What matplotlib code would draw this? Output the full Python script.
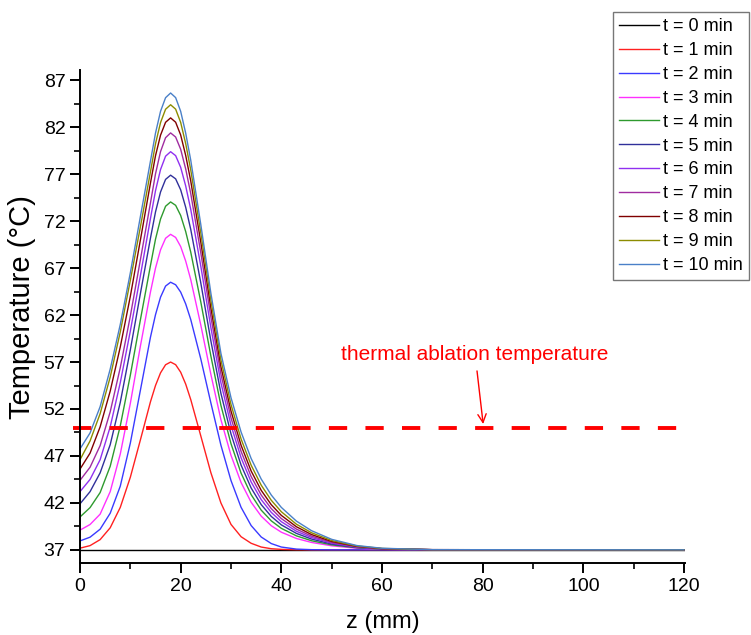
import matplotlib
matplotlib.use('Agg')
import matplotlib.pyplot as plt
from matplotlib.ticker import MultipleLocator

plt.rcParams['font.family'] = ['Liberation Sans', 'DejaVu Sans']

# positions along the axis (mm)
z = [0, 2, 4, 6, 8, 10, 12, 14, 15, 16, 17, 18, 19, 20, 21, 22, 24, 26, 28,
     30, 32, 34, 36, 38, 40, 43, 46, 50, 55, 60, 70, 120]

# temperature profiles (deg C), one list per time step
t0 = [37.0] * len(z)
t1 = [37.18, 37.45, 38.09, 39.35, 41.52, 44.73, 48.71, 52.77, 54.50, 55.85, 56.71,
      57.00,
      56.72, 55.92, 54.65, 53.01, 49.13, 45.22, 41.99, 39.71, 38.40, 37.70, 37.30,
      37.12, 37.05, 37.01, 37.00, 37.00, 37.00, 37.00, 37.00, 37.00]
t2 = [37.95, 38.35, 39.20, 40.90, 43.78, 48.37, 54.00, 59.65, 62.04, 63.91, 65.09,
      65.50,
      65.23, 64.45, 63.19, 61.53, 57.33, 52.65, 48.14, 44.38, 41.53, 39.59, 38.37,
      37.67, 37.30, 37.08, 37.02, 37.00, 37.00, 37.00, 37.00, 37.00]
t3 = [39.10, 39.70, 40.80, 43.20, 47.20, 52.60, 58.70, 64.46, 67.00, 68.95, 70.18,
      70.60,
      70.27, 69.30, 67.75, 65.78, 60.94, 55.69, 50.86, 47.07, 44.17, 42.07, 40.59,
      39.57, 38.88, 38.21, 37.79, 37.43, 37.17, 37.06, 37.01, 37.00]
t4 = [40.50, 41.50, 43.10, 45.90, 50.20, 55.60, 61.50, 67.28, 70.08, 72.23, 73.59,
      74.05,
      73.69, 72.61, 70.89, 68.71, 63.40, 57.64, 52.38, 48.30, 45.17, 42.88, 41.23,
      40.09, 39.29, 38.49, 37.97, 37.53, 37.22, 37.08, 37.01, 37.00]
t5 = [41.90, 43.20, 45.20, 48.20, 52.70, 58.30, 64.30, 70.20, 72.98, 75.11, 76.45,
      76.90,
      76.51, 75.34, 73.48, 71.13, 65.42, 59.26, 53.66, 49.34, 46.03, 43.59, 41.82,
      40.56, 39.66, 38.75, 38.15, 37.62, 37.26, 37.10, 37.01, 37.00]
t6 = [43.20, 44.50, 46.60, 50.10, 54.80, 60.30, 66.20, 72.29, 75.24, 77.50, 78.92,
      79.40,
      78.98, 77.74, 75.75, 73.26, 67.21, 60.68, 54.79, 50.27, 46.81, 44.23, 42.35,
      40.99, 40.00, 38.98, 38.31, 37.71, 37.29, 37.11, 37.02, 37.00]
t7 = [44.40, 45.80, 48.10, 51.70, 56.40, 61.90, 67.90, 73.95, 77.04, 79.41, 80.89,
      81.40,
      80.96, 79.66, 77.56, 74.95, 68.63, 61.82, 55.71, 51.06, 47.49, 44.81, 42.84,
      41.39, 40.33, 39.21, 38.46, 37.79, 37.33, 37.12, 37.02, 37.00]
t8 = [45.60, 47.30, 50.10, 53.90, 58.60, 64.00, 70.00, 76.07, 78.97, 81.16, 82.53,
      83.00,
      82.54, 81.18, 79.00, 76.29, 69.76, 62.76, 56.49, 51.78, 48.14, 45.40, 43.34,
      41.81, 40.67, 39.46, 38.63, 37.89, 37.37, 37.13, 37.02, 37.00]
t9 = [46.60, 48.60, 51.50, 55.40, 60.20, 65.70, 71.40, 77.26, 80.24, 82.50, 83.92,
      84.40,
      83.93, 82.52, 80.26, 77.47, 70.75, 63.58, 57.22, 52.47, 48.81, 46.02, 43.89,
      42.28, 41.06, 39.73, 38.82, 37.99, 37.41, 37.15, 37.02, 37.00]
t10 = [47.75, 49.45, 52.25, 56.25, 61.00, 66.50, 72.50, 78.40, 81.38, 83.70, 85.15,
       85.65,
       85.16, 83.70, 81.37, 78.50, 71.64, 64.34, 57.92, 53.20, 49.55, 46.73, 44.54,
       42.84, 41.52, 40.06, 39.04, 38.12, 37.46, 37.17, 37.02, 37.00]

series = [t0, t1, t2, t3, t4, t5, t6, t7, t8, t9, t10]
labels = ['t = %d min' % i for i in range(11)]
colors = ['#000000', '#ff2020', '#3a3aff', '#ff30ff', '#2e9a2e', '#30309a',
          '#9030f0', '#a02ca0', '#800000', '#8c8c00', '#4a80c8']

ablation_temp = 50.0

fig = plt.figure(figsize=(7.51, 6.35), dpi=100)
ax = fig.add_axes([80 / 751, 72 / 635, 605 / 751, 493 / 635])

for ys, lab, col in zip(series, labels, colors):
    ax.plot(z, ys, color=col, lw=1.0, label=lab)

ax.plot([-1.4, 120], [ablation_temp, ablation_temp], color='#ff0000', lw=2.8,
        dashes=(4.7, 4.7), clip_on=False)
ax.annotate('thermal ablation temperature', xy=(80.1, 50.4), xytext=(78.5, 57.8),
            ha='center', va='center', color='#ff0000', fontsize=15,
            arrowprops=dict(arrowstyle='->', color='#ff0000', lw=1.0,
                            shrinkA=3, shrinkB=0))

ax.set_xlim(0, 120.2)
ax.set_ylim(35.6, 88.1)
ax.xaxis.set_major_locator(MultipleLocator(20))
ax.xaxis.set_minor_locator(MultipleLocator(10))
ax.set_yticks([37, 42, 47, 52, 57, 62, 67, 72, 77, 82, 87])
ax.set_yticks([39.5, 44.5, 49.5, 54.5, 59.5, 64.5, 69.5, 74.5, 79.5, 84.5], minor=True)
ax.spines['top'].set_visible(False)
ax.spines['right'].set_visible(False)
for s in ('left', 'bottom'):
    ax.spines[s].set_linewidth(1.4)
ax.tick_params(which='major', direction='out', length=7, width=1.4, labelsize=14)
ax.tick_params(which='minor', direction='out', length=4, width=1.2)

ax.set_xlabel('z (mm)', fontsize=17, labelpad=12)
ax.set_ylabel('Temperature (°C)', fontsize=21)
ax.yaxis.set_label_coords(-0.073, 0.52)

leg = ax.legend(loc='upper left', bbox_to_anchor=(613 / 751, 1 - 12 / 635),
                bbox_transform=fig.transFigure, fontsize=13, frameon=True,
                fancybox=False, edgecolor='#555555', handlelength=2.2,
                handletextpad=0.2, labelspacing=0.38, borderpad=0.35,
                borderaxespad=0)
leg.get_frame().set_linewidth(1.0)

fig.savefig('out.png', dpi=100)
